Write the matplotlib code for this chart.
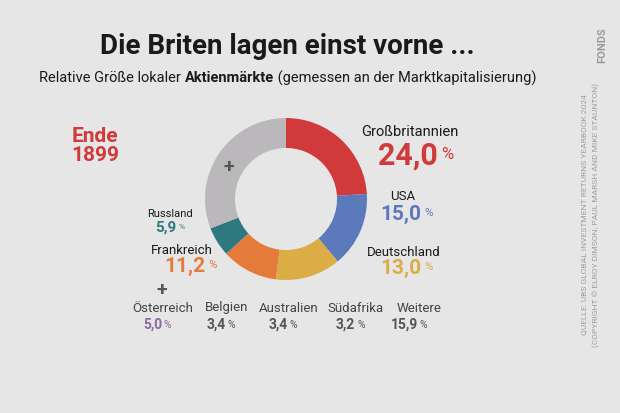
import numpy as np
import matplotlib.pyplot as plt

# data
pie_labels = ['Großbritannien', 'USA', 'Deutschland', 'Frankreich', 'Russland', 'Andere']
pie_values = [24.0, 15.0, 13.0, 11.2, 5.9, 30.9]
pie_colors = ['#d03a3a', '#5b79bb', '#dbae45', '#e57b3a', '#2e7980', '#bab8bb']

rest_labels = ['Österreich', 'Belgien', 'Australien', 'Südafrika', 'Weitere']
rest_values = [5.0, 3.4, 3.4, 3.2, 15.9]
rest_colors = ['#8b6a9e', '#555555', '#555555', '#555555', '#555555']

bg = '#e6e6e6'
W, H = 620, 413
plt.rcParams['font.family'] = ['Roboto', 'DejaVu Sans']

fig = plt.figure(figsize=(6.2, 4.13), dpi=100, facecolor=bg)
fig.canvas.draw()
rend = fig.canvas.get_renderer()


def px(x, y):
    return x / W, 1 - y / H


def pct(s):
    return ('%.1f' % s).replace('.', ',')


# donut
cx, cy, r = 286, 199, 81
ax = fig.add_axes([(cx - r) / W, (H - cy - r) / H, 2 * r / W, 2 * r / H])
ax.pie(pie_values, colors=pie_colors, startangle=90, counterclock=False,
       wedgeprops=dict(width=0.37, edgecolor='none'))
ax.set_xlim(-1, 1)
ax.set_ylim(-1, 1)
ax.set_aspect('equal')
ax.axis('off')

# titles
fig.text(*px(287, 47), 'Die Briten lagen einst vorne ...', ha='center', va='center',
         fontsize=20, fontweight='bold', color='#1a1a1a')

parts = [('Relative Größe lokaler ', 'normal'), ('Aktienmärkte', 'bold'),
         (' (gemessen an der Marktkapitalisierung)', 'normal')]
tmp = [fig.text(0, 0, s, fontsize=10.5, fontweight=w) for s, w in parts]
widths = [t.get_window_extent(rend).width for t in tmp]
for t in tmp:
    t.remove()
x0 = 288 - sum(widths) / 2
for (s, w), wd in zip(parts, widths):
    fig.text(*px(x0, 78), s, ha='left', va='center', fontsize=10.5, fontweight=w,
             color='#1a1a1a')
    x0 += wd

fig.text(*px(95, 146), 'Ende\n1899', ha='center', va='center', fontsize=15,
         fontweight='bold', color=pie_colors[0], linespacing=1.0)

# labels for the big wedges: (label x, label y, value x, value y, value size)
spots = [(410, 132, 378, 156, 22), (403, 197, 380, 214, 15), (404, 253, 380, 268, 15),
         (182, 250, 164, 266, 15), (170, 214, 155, 228, 11)]
lab_sizes = [10.5, 9.5, 9.5, 9.5, 8]
for i, (lx, ly, vx, vy, fs) in enumerate(spots):
    fig.text(*px(lx, ly), pie_labels[i], ha='center', va='center', fontsize=lab_sizes[i],
             color='#1a1a1a')
    tv = fig.text(*px(vx, vy), pct(pie_values[i]), ha='left', va='center', fontsize=fs,
                  fontweight='bold', color=pie_colors[i])
    bb = tv.get_window_extent(rend)
    fig.text(bb.x1 / W + 3 / W, 1 - (vy - 1) / H, '%', ha='left', va='center',
             fontsize=fs * 0.55, color=pie_colors[i])

# plus signs
for x, y in [(229, 167), (162, 290)]:
    fig.text(*px(x, y), '+', ha='center', va='center', fontsize=14,
             fontweight='bold', color='#555555')

# bottom row
xs = [163, 227, 289, 356, 419]
for x, lab, v, c in zip(xs, rest_labels, rest_values, rest_colors):
    fig.text(*px(x, 308), lab, ha='center', va='center', fontsize=9.5, color='#444444')
    fig.text(*px(x - 1, 325), pct(v), ha='right', va='center', fontsize=10,
             fontweight='bold', color=c)
    fig.text(*px(x + 1, 325), '%', ha='left', va='center', fontsize=7.5, color=c)

# source and logo
fig.text(*px(584, 215), 'QUELLE: UBS GLOBAL INVESTMENT RETURNS YEARBOOK 2024', rotation=90,
         ha='center', va='center', fontsize=6, color='#a0a0a0')
fig.text(*px(596, 215), '(COPYRIGHT © ELROY DIMSON, PAUL MARSH AND MIKE STAUNTON)', rotation=90,
         ha='center', va='center', fontsize=6, color='#a0a0a0')
fig.text(*px(602, 45), 'FONDS', rotation=90, ha='center', va='center', fontsize=8,
         fontweight='bold', color='#9a9a9a')

fig.savefig('out.png', dpi=100, facecolor=bg)
